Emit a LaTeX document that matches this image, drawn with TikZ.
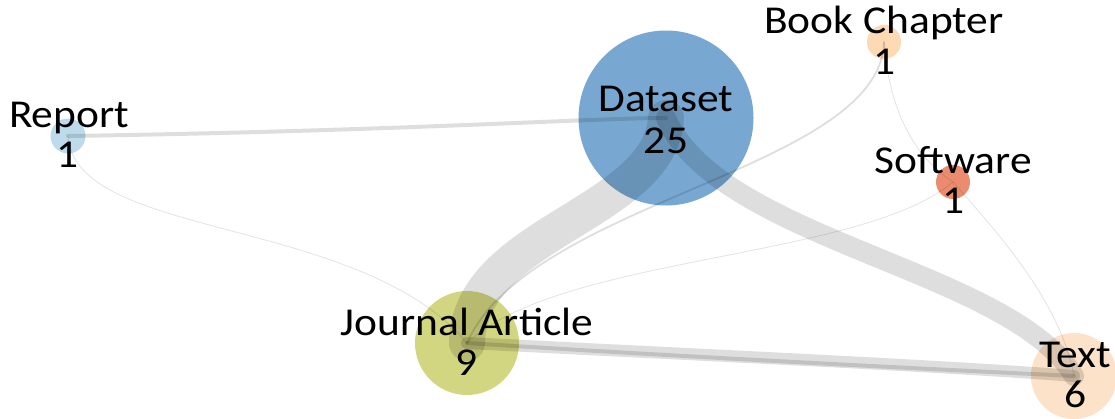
\documentclass[tikz,border=0pt]{standalone}
\usepackage{fontspec}
\setmainfont[FakeStretch=1.1]{Carlito}
\definecolor{cReport}{RGB}{190,219,235}
\definecolor{cData}{RGB}{120,168,210}
\definecolor{cBook}{RGB}{253,217,180}
\definecolor{cSoft}{RGB}{235,140,110}
\definecolor{cJour}{RGB}{211,214,128}
\definecolor{cText}{RGB}{251,226,200}
\tikzset{
  dot/.style={circle, inner sep=0pt, draw=none},
  edge/.style={draw=black, draw opacity=0.13, line cap=round},
  thinedge/.style={draw=black, draw opacity=0.11, line width=0.8pt},
  lbl/.style={anchor=base, inner sep=0pt, font=\fontsize{39.5}{41}\selectfont, text=black}
}
\begin{document}
\begin{tikzpicture}[x=1pt, y=-1pt]
\useasboundingbox (0,0) rectangle (1115,418);
% nodes (circles)
\node[dot, fill=cReport, minimum size=35pt] (rep) at (68,136) {};
\node[dot, fill=cData, minimum size=175pt] (ds) at (666,118) {};
\node[dot, fill=cBook, minimum size=34pt] (bc) at (884,42) {};
\node[dot, fill=cSoft, minimum size=34pt] (sw) at (953,182) {};
\node[dot, fill=cJour, minimum size=104pt] (ja) at (467,343) {};
\node[dot, fill=cText, minimum size=86pt] (tx) at (1074,376) {};
% connectors
\draw[edge, line width=36pt] (ds.center) .. controls (660,215) and (468,232) .. (ja.center);
\draw[edge, line width=20pt] (ds.center) .. controls (720,240) and (1010,270) .. (tx.center);
\draw[edge, line width=12pt] (ja.center) .. controls (700,355) and (950,366) .. (tx.center);
\draw[edge, line width=4pt] (ja.center) .. controls (700,358) and (950,370) .. (tx.center);
\draw[edge, line width=4pt] (rep.center) .. controls (400,131) and (590,118) .. (ds.center);
\draw[thinedge] (rep.center) .. controls (75,240) and (360,215) .. (ja.center);
\draw[edge, line width=1.8pt] (bc.center) .. controls (880,170) and (530,200) .. (ja.center);
\draw[thinedge] (bc.center) .. controls (890,120) and (920,160) .. (sw.center);
\draw[thinedge] (sw.center) .. controls (995,230) and (1060,300) .. (tx.center);
\draw[thinedge] (sw.center) .. controls (860,260) and (560,255) .. (ja.center);
% labels
\node[lbl] (repA) at (69,127) {Report};
\node[lbl] (repB) at (68,167) {1};
\node[lbl] (dsA) at (666,111) {Dataset};
\node[lbl] (dsB) at (666,153) {25};
\node[lbl] (bcA) at (884,33) {Book Chapter};
\node[lbl] (bcB) at (884,74) {1};
\node[lbl] (swA) at (953,173) {Software};
\node[lbl] (swB) at (953,213) {1};
\node[lbl] (jaA) at (467,335) {Journal Article};
\node[lbl] (jaB) at (467,375) {9};
\node[lbl] (txA) at (1075,367) {Text};
\node[lbl] (txB) at (1075,407) {6};
\end{tikzpicture}
\end{document}
